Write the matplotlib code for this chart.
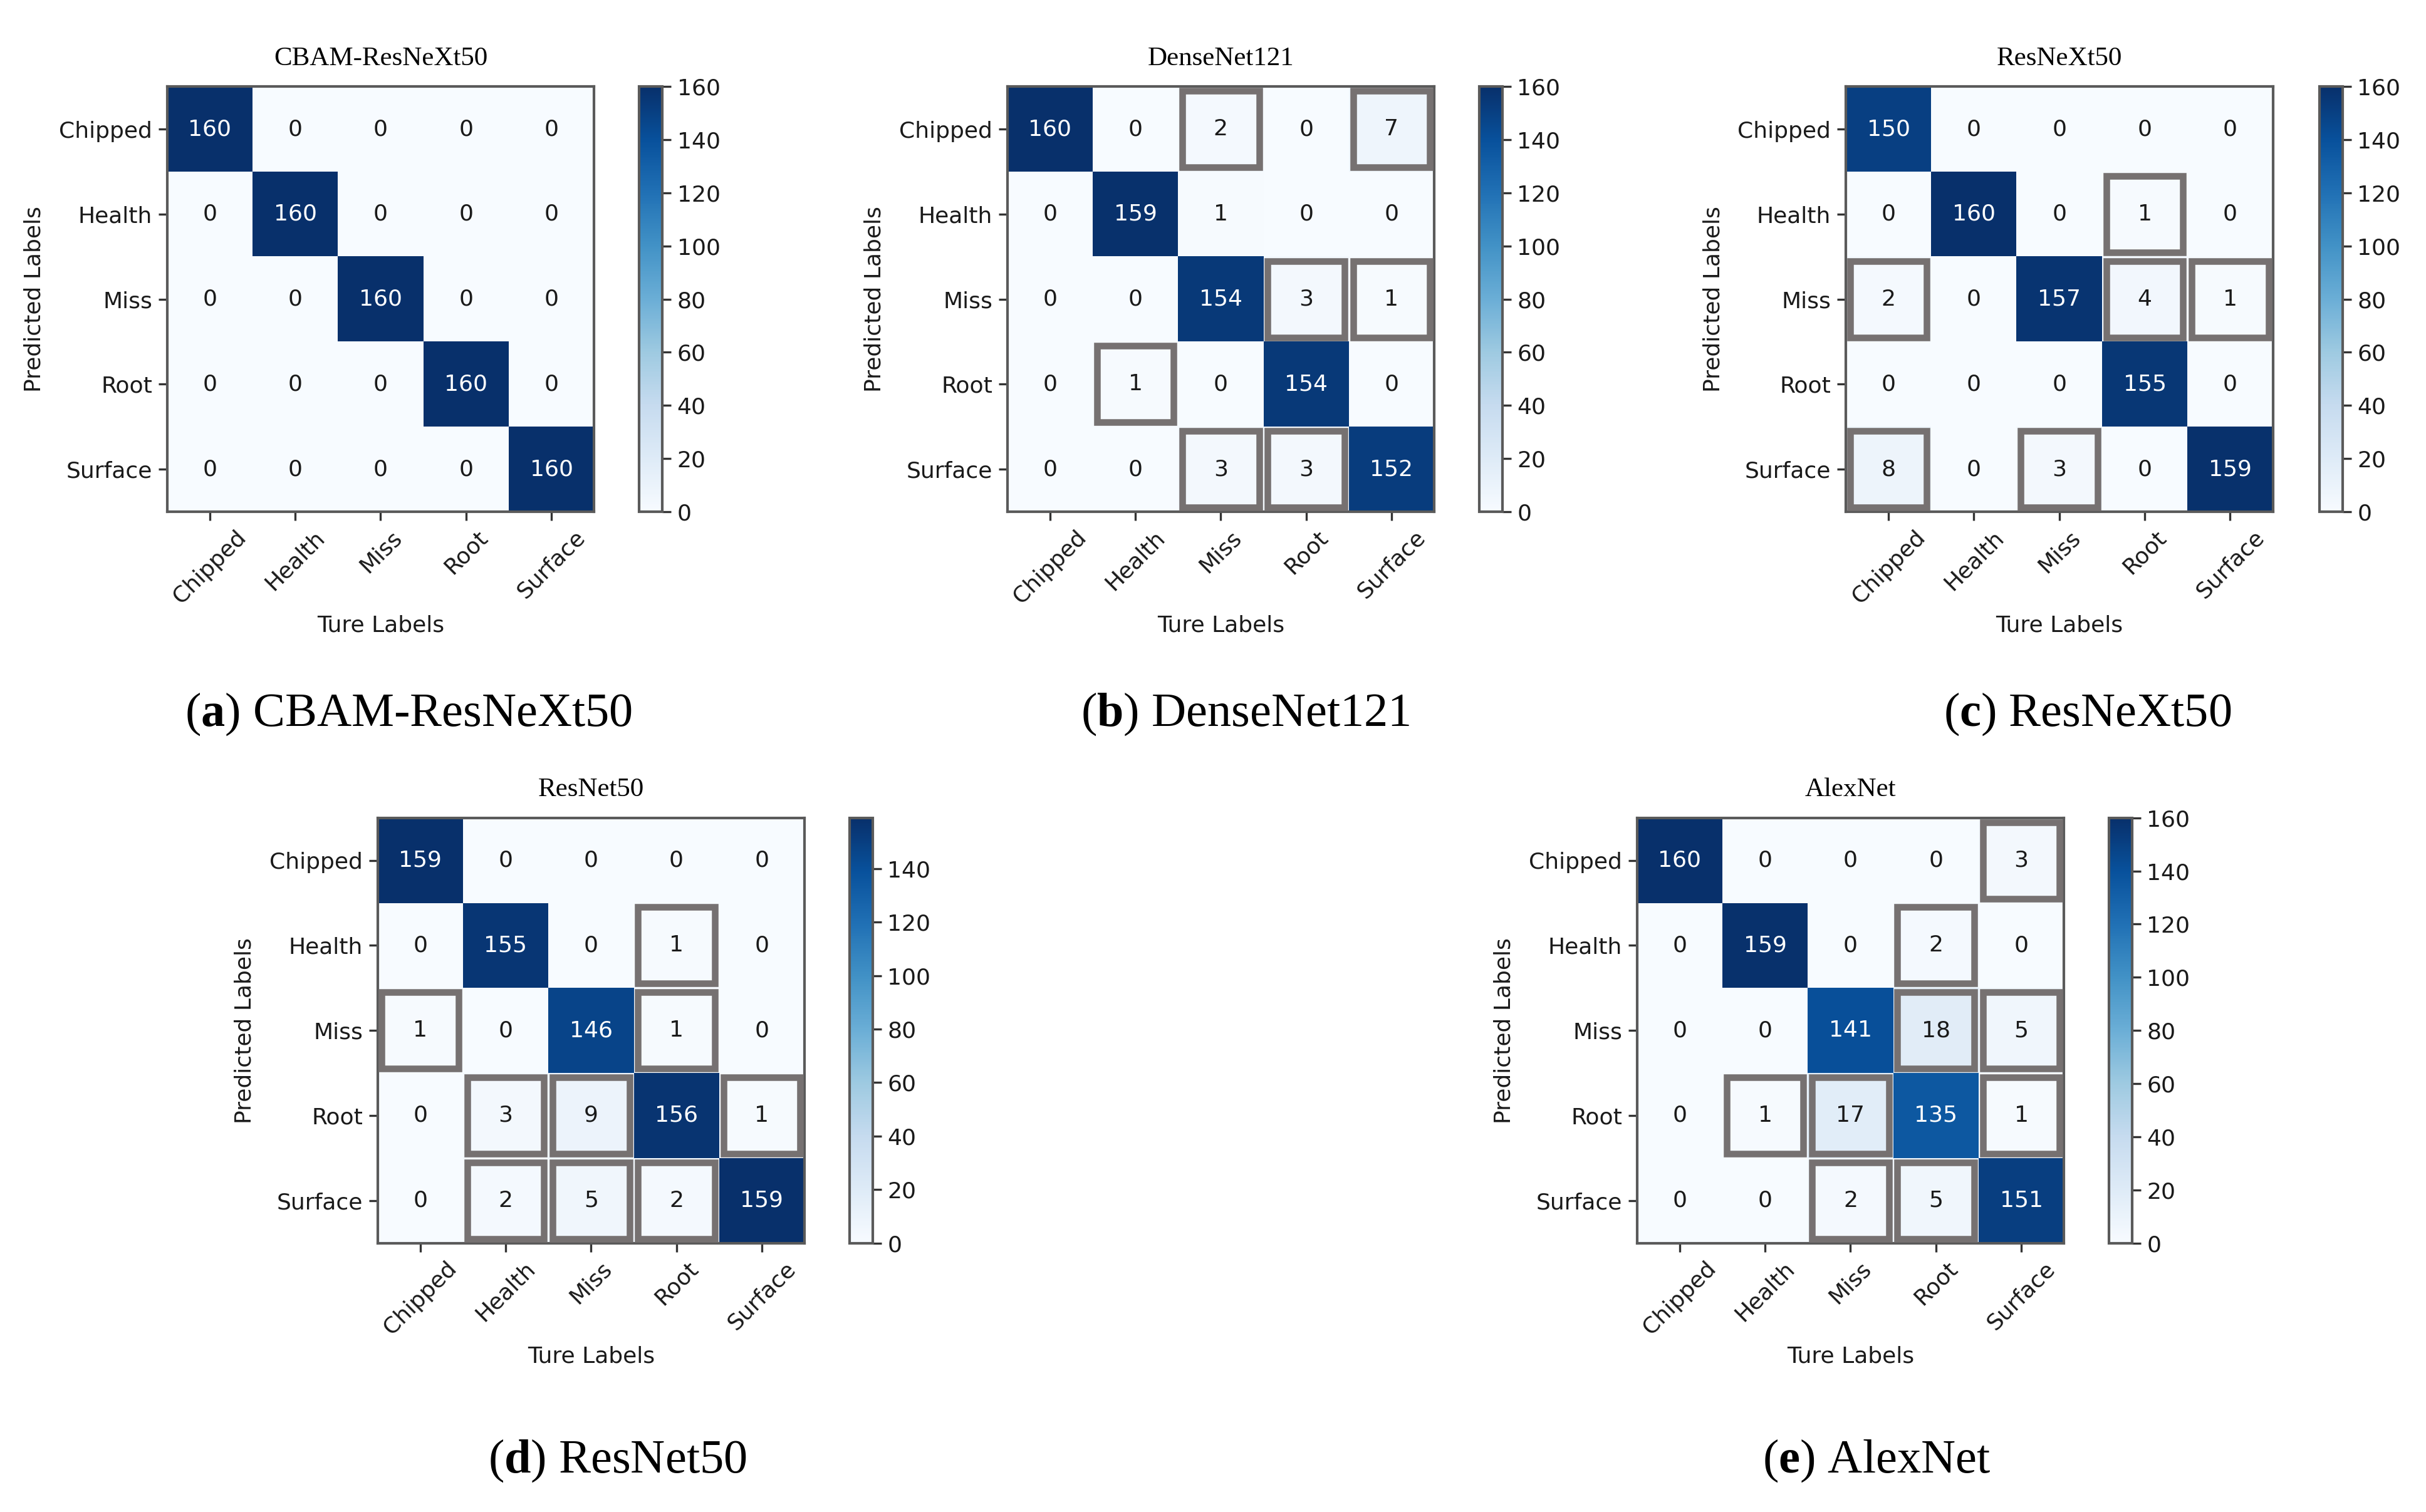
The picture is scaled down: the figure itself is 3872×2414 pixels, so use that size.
import matplotlib
matplotlib.use("Agg")
import matplotlib.pyplot as plt
from matplotlib.patches import Rectangle
import numpy as np

plt.rcParams['font.family'] = ['DejaVu Sans']
plt.rcParams['mathtext.fontset'] = 'custom'
plt.rcParams['mathtext.rm'] = 'Liberation Serif'
plt.rcParams['mathtext.bf'] = 'Liberation Serif:bold'

classes = ["Chipped", "Health", "Miss", "Root", "Surface"]

titles = ["CBAM-ResNeXt50", "DenseNet121", "ResNeXt50", "ResNet50", "AlexNet"]
letters = ["a", "b", "c", "d", "e"]

cm_cbam = [[160, 0, 0, 0, 0],
           [0, 160, 0, 0, 0],
           [0, 0, 160, 0, 0],
           [0, 0, 0, 160, 0],
           [0, 0, 0, 0, 160]]
cm_dense = [[160, 0, 2, 0, 7],
            [0, 159, 1, 0, 0],
            [0, 0, 154, 3, 1],
            [0, 1, 0, 154, 0],
            [0, 0, 3, 3, 152]]
cm_resnext = [[150, 0, 0, 0, 0],
              [0, 160, 0, 1, 0],
              [2, 0, 157, 4, 1],
              [0, 0, 0, 155, 0],
              [8, 0, 3, 0, 159]]
cm_resnet = [[159, 0, 0, 0, 0],
             [0, 155, 0, 1, 0],
             [1, 0, 146, 1, 0],
             [0, 3, 9, 156, 1],
             [0, 2, 5, 2, 159]]
cm_alex = [[160, 0, 0, 0, 3],
           [0, 159, 0, 2, 0],
           [0, 0, 141, 18, 5],
           [0, 1, 17, 135, 1],
           [0, 0, 2, 5, 151]]

# highlighted cells (row, col)
boxes_cbam = []
boxes_dense = [(0, 2), (0, 4), (2, 3), (2, 4), (3, 1), (4, 2), (4, 3)]
boxes_resnext = [(1, 3), (2, 0), (2, 3), (2, 4), (4, 0), (4, 2)]
boxes_resnet = [(1, 3), (2, 0), (2, 3), (3, 1), (3, 2), (3, 4), (4, 1), (4, 2), (4, 3)]
boxes_alex = [(0, 4), (1, 3), (2, 3), (2, 4), (3, 1), (3, 2), (3, 4), (4, 2), (4, 3)]

mats = [cm_cbam, cm_dense, cm_resnext, cm_resnet, cm_alex]
boxes = [boxes_cbam, boxes_dense, boxes_resnext, boxes_resnet, boxes_alex]

W, H = 1568.0, 978.0
# layout (in reference display px)
ax_left = [108, 651, 1193, 244, 1058]
ax_top = [56, 56, 56, 529, 529]
cb_left = [413, 956, 1499, 549, 1363]
ax_w = 276
ax_h = 275
cb_w = 15
cap_x = [264, 805, 1349, 399, 1213]
cap_y = [462, 462, 462, 945, 945]

fig = plt.figure(figsize=(19.36, 12.07), dpi=200)
spine_col = '#5a5a5a'
box_col = '#767171'
fs = 13
txt_col = '#1a1a1a'

for k in range(5):
    m = np.array(mats[k])
    ax = fig.add_axes([ax_left[k] / W, 1 - (ax_top[k] + ax_h) / H, ax_w / W, ax_h / H])
    im = ax.imshow(m, cmap='Blues', interpolation='nearest', aspect='auto')
    thresh = m.max() / 2.0
    for i in range(5):
        for j in range(5):
            ax.text(j, i, str(m[i, j]), ha='center', va='center', fontsize=fs,
                    color='white' if m[i, j] > thresh else txt_col)
    for (i, j) in boxes[k]:
        ax.add_patch(Rectangle((j - 0.45, i - 0.45), 0.9, 0.9, fill=False,
                               edgecolor=box_col, linewidth=3.8, zorder=5))
    ax.set_xticks(range(5))
    ax.set_yticks(range(5))
    ax.set_xticklabels(classes, rotation=45, fontsize=fs, color=txt_col)
    ax.set_yticklabels(classes, fontsize=fs, color=txt_col)
    ax.set_xlabel("Ture Labels", fontsize=fs, labelpad=4, color=txt_col)
    ax.set_ylabel("Predicted Labels", fontsize=fs, labelpad=8, color=txt_col)
    for s in ax.spines.values():
        s.set_color(spine_col)
        s.set_linewidth(1.5)
    ax.tick_params(length=5, width=1.2, color='#333333')
    ax.set_title(titles[k], fontsize=15.5, family='Liberation Serif', pad=12.5)

    cax = fig.add_axes([cb_left[k] / W, 1 - (ax_top[k] + ax_h) / H, cb_w / W, ax_h / H])
    cb = fig.colorbar(im, cax=cax)
    cb.set_ticks(list(range(0, int(m.max()) + 1, 20)))
    cb.ax.tick_params(labelsize=fs, length=5, width=1.2, color='#333333', labelcolor=txt_col)
    cb.outline.set_edgecolor(spine_col)
    cb.outline.set_linewidth(1.5)

    fig.text(cap_x[k] / W, 1 - cap_y[k] / H,
             r'($\mathbf{' + letters[k] + r'}$) ' + titles[k],
             ha='center', va='center', fontsize=27.5, family='Liberation Serif')

fig.savefig("out.png", dpi=200)
